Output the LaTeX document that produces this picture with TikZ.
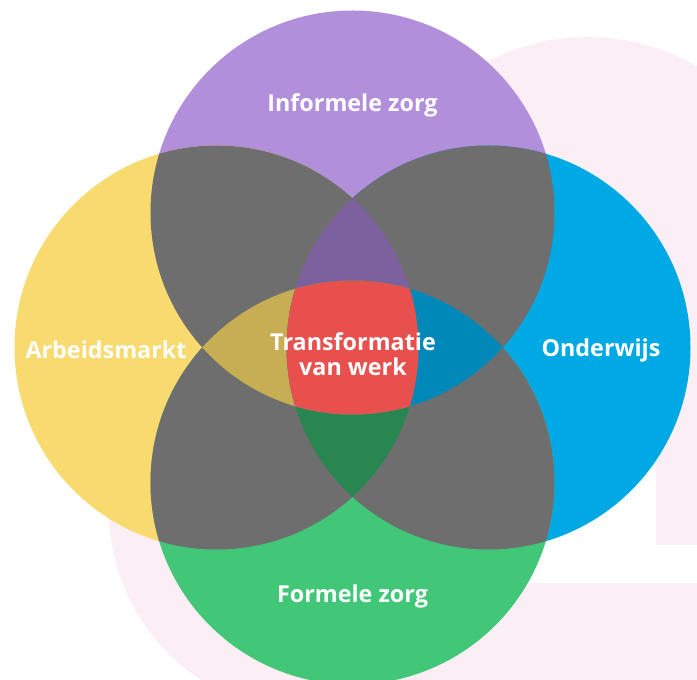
\documentclass[tikz,border=0pt]{standalone}
\usepackage{xcolor}
\usepackage{fontspec}
\setmainfont{Open Sans}
\usepackage{tikz}
\usetikzlibrary{positioning}

\begin{document}
\begin{tikzpicture}[x=0.75pt,y=0.75pt,yscale=-1,xscale=1,
  pinkbg/.style={fill={rgb, 255:red, 251; green, 239; blue, 245 }},
  purp/.style={fill={rgb, 255:red, 178; green, 143; blue, 219 }},
  yell/.style={fill={rgb, 255:red, 248; green, 218; blue, 110 }},
  blu/.style={fill={rgb, 255:red, 0; green, 169; blue, 227 }},
  grn/.style={fill={rgb, 255:red, 66; green, 198; blue, 120 }},
  gry/.style={fill={rgb, 255:red, 110; green, 110; blue, 110 }},
  dpurp/.style={fill={rgb, 255:red, 125; green, 97; blue, 159 }},
  dyell/.style={fill={rgb, 255:red, 200; green, 174; blue, 82 }},
  dblu/.style={fill={rgb, 255:red, 0; green, 137; blue, 184 }},
  dgrn/.style={fill={rgb, 255:red, 42; green, 134; blue, 80 }},
  rood/.style={fill={rgb, 255:red, 232; green, 80; blue, 77 }},
  lbl/.style={text=white,font=\bfseries\fontsize{17.5}{18.75}\selectfont,inner sep=0.75pt,align=center}]
\useasboundingbox (0,0) rectangle (697,680);
\def\rad{202}

%Background shape
\fill [pinkbg] (588,254) circle (217);
\fill [pinkbg] (656,254) rectangle (697,545);
\fill [pinkbg] (312,510) circle (203);
\fill [pinkbg] (400,583) rectangle (697,680);

\coordinate (ctop) at (352.5,212.5);
\coordinate (cbot) at (352.5,482.5);
\coordinate (cleft) at (216.5,347.5);
\coordinate (cright) at (488.5,347.5);

%Shape: Circle
\fill [purp] (ctop) circle (\rad);
%Shape: Circle
\fill [yell] (cleft) circle (\rad);
%Shape: Circle
\fill [blu] (cright) circle (\rad);
%Shape: Circle
\fill [grn] (cbot) circle (\rad);

%overlap of two
\begin{scope}
\clip (ctop) circle (\rad);
\fill [gry] (cleft) circle (\rad) (cright) circle (\rad);
\end{scope}
\begin{scope}
\clip (cbot) circle (\rad);
\fill [gry] (cleft) circle (\rad) (cright) circle (\rad);
\end{scope}

%overlap of three
\begin{scope}
\clip (cleft) circle (\rad);
\clip (cright) circle (\rad);
\fill [dpurp] (ctop) circle (\rad);
\fill [dgrn] (cbot) circle (\rad);
\end{scope}
\begin{scope}
\clip (ctop) circle (\rad);
\clip (cbot) circle (\rad);
\fill [dyell] (cleft) circle (\rad);
\fill [dblu] (cright) circle (\rad);
\end{scope}

%overlap of four
\begin{scope}
\clip (ctop) circle (\rad);
\clip (cbot) circle (\rad);
\clip (cleft) circle (\rad);
\fill [rood] (cright) circle (\rad);
\end{scope}

% Text Node
\node (infzorg) [lbl] at (352.5,105) {Informele zorg};
% Text Node
\node (arbmarkt) [lbl] at (106,350) {Arbeidsmarkt};
% Text Node
\node (onderwijs) [lbl] at (601,350) {Onderwijs};
% Text Node
\node (formzorg) [lbl] at (352.5,596) {Formele zorg};
% Text Node
\node (transf) [lbl] at (353,354) {Transformatie\\van werk};

\end{tikzpicture}
\end{document}
